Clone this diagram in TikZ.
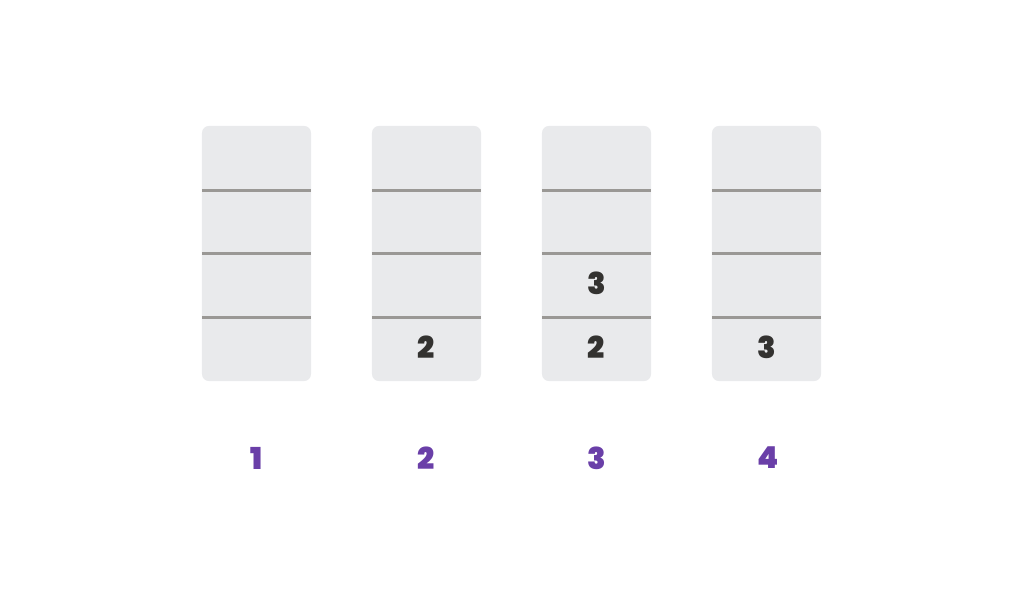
\documentclass[tikz,border=0pt]{standalone}
\usepackage{fontspec}
\setmainfont{Poppins}[BoldFont={Poppins Black}]
\usepackage{tikz}
\usetikzlibrary{positioning,calc}
\definecolor{stackgray}{RGB}{233,234,236}
\definecolor{dividergray}{RGB}{154,152,149}
\definecolor{numdark}{RGB}{51,50,48}
\definecolor{stepviolet}{RGB}{106,63,168}

\begin{document}
\begin{tikzpicture}[x=0.01cm,y=-0.01cm,
    stackbox/.style={fill=stackgray,rounded corners=0.07cm,minimum width=1.09cm,minimum height=2.55cm,inner sep=0pt,outer sep=0pt},
    divider/.style={draw=dividergray,line width=0.6pt},
    slotnum/.style={font=\bfseries\fontsize{8.6}{8.6}\selectfont,text=numdark},
    steplabel/.style={font=\bfseries\fontsize{8.6}{8.6}\selectfont,text=stepviolet}]
    \useasboundingbox (0,0) rectangle (1024,612);
    % the four stacks
    \foreach \i/\cx in {1/256.5,2/426.5,3/596.5,4/766.5}{
        \node[stackbox] (s\i) at (\cx,253.5) {};
        \foreach \f in {0.253,0.5,0.751}
            \draw[divider] ($(s\i.north west)!\f!(s\i.south west)$) -- ($(s\i.north east)!\f!(s\i.south east)$);
    }
    % contents
    \node[slotnum] (n2a) at (426.5,347) {2};
    \node[slotnum] (n3b) at (596.5,283) {3};
    \node[slotnum] (n3a) at (596.5,347) {2};
    \node[slotnum] (n4a) at (766.5,347) {3};
    % step numbers
    \node[steplabel] (l1) at (256.5,458) {1};
    \node[steplabel] (l2) at (426.5,458) {2};
    \node[steplabel] (l3) at (596.5,458) {3};
    \node[steplabel] (l4) at (768,458) {4};
\end{tikzpicture}
\end{document}
